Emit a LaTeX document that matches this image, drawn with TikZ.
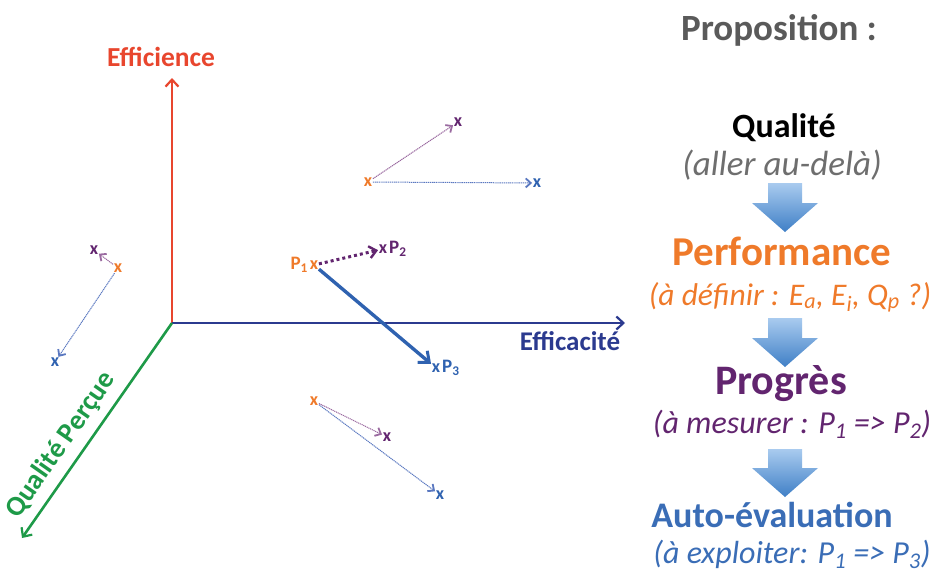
\documentclass[tikz,border=0pt]{standalone}
\usepackage{fontspec}
\setmainfont{Carlito}
\usetikzlibrary{arrows.meta}
\definecolor{cred}{HTML}{E8462E}
\definecolor{cnavy}{HTML}{2B3A8F}
\definecolor{cgreen}{HTML}{1E9A48}
\definecolor{corange}{HTML}{EF7A2A}
\definecolor{cpurple}{HTML}{62256F}
\definecolor{cblue}{HTML}{2F62B0}
\definecolor{cblue2}{HTML}{3A6DB6}
\definecolor{cgray}{HTML}{5A5A5A}
\definecolor{cgray2}{HTML}{6E6E6E}
\definecolor{cmauve}{HTML}{9A6AA0}
\definecolor{cthinblue}{HTML}{5A78C0}
\definecolor{arrtop}{HTML}{A9CBEF}
\definecolor{arrbot}{HTML}{3F7FC6}
\newcommand\fsz[1]{\fontsize{#1}{#1}\selectfont}
\begin{document}
\begin{tikzpicture}[x=1pt,y=-1pt,
  mk/.style={font=\fsz{18}\bfseries, inner sep=0.6pt},
  plab/.style={font=\fsz{19}\bfseries, inner sep=1pt},
  axis/.style={line width=2.6pt, -{Straight Barb[length=7pt,width=13pt,line width=2.2pt]}},
  thinarr/.style={line width=1pt, dash pattern=on 1.2pt off 0.7pt, -{Straight Barb[length=5pt,width=9pt,line width=1.8pt]}},
  big/.style={font=\fsz{#1}\bfseries, anchor=base},
  sub/.style={font=\fsz{#1}\itshape, anchor=base},
]
\useasboundingbox (0,0) rectangle (939,574);
% axes
\coordinate (O) at (172,323);
\coordinate (Ey) at (172,78);
\coordinate (Ex) at (625,323);
\coordinate (Ez) at (22,538);
\draw[axis, cred] (O) -- (Ey);
\draw[axis, cnavy] (O) -- (Ex);
\draw[axis, cgreen] (O) -- (Ez);
\node[font=\fsz{27.5}\bfseries, text=cred] (lEy) at (161,57) {Efficience};
\node[font=\fsz{27}\bfseries, text=cnavy] (lEx) at (570,341) {Efficacité};
\node[font=\fsz{28}\bfseries, text=cgreen, rotate=55] (lEz) at (61,445) {Qualité Perçue};

% top cluster
\node[mk, text=corange] (ta) at (368,182) {x};
\node[mk, text=cpurple] (tb) at (458,122) {x};
\node[mk, text=cblue] (tc) at (537,183) {x};
\draw[thinarr, cmauve] (ta) -- (tb);
\draw[thinarr, cthinblue] (ta) -- (tc);

% left cluster
\node[mk, text=corange] (la) at (118,268) {x};
\node[mk, text=cpurple] (lb) at (94,250) {x};
\node[mk, text=cblue] (lc) at (55,362) {x};
\draw[thinarr, cmauve] (la) -- (lb);
\draw[thinarr, cthinblue] (la) -- (lc);

% bottom cluster
\node[mk, text=corange] (ba) at (314,401) {x};
\node[mk, text=cpurple] (bb) at (387,437) {x};
\node[mk, text=cblue] (bc) at (440,495) {x};
\draw[thinarr, cmauve] (ba) -- (bb);
\draw[thinarr, cthinblue] (ba) -- (bc);

% P points
\node[mk, text=corange] (p1) at (314,265) {x};
\node[mk, text=cpurple] (p2) at (383,249) {x};
\node[mk, text=cblue] (p3) at (436,368) {x};
\node[plab, text=corange, anchor=east] (lp1) at (p1.west) {P\textsubscript{1}};
\node[plab, text=cpurple, anchor=west] (lp2) at (p2.east) {P\textsubscript{2}};
\node[plab, text=cblue, anchor=west] (lp3) at (p3.east) {P\textsubscript{3}};
\draw[cpurple, line width=3pt, dash pattern=on 3pt off 3pt, -{Straight Barb[length=7pt,width=12pt,line width=2.4pt]}] (p1) -- (p2);
\draw[cblue, line width=3.4pt, -{Straight Barb[length=9pt,width=15pt,line width=3pt]}] (p1) -- (p3);

% right column
\node[font=\fsz{37}\bfseries, text=cgray, anchor=base] (prop) at (779,40) {Proposition :};
\node[big=34, text=black] (qual) at (784,137) {Qualité};
\node[sub=35, text=cgray2] (qsub) at (782,175) {(aller au-delà)};
\node[big=41, text=corange] (perf) at (782,265) {Performance};
\node[sub=31.5, text=corange] (psub) at (790,305) {(à définir : \textit{E}\textsubscript{\textit{a}}, \textit{E}\textsubscript{\textit{i}}, \textit{Q}\textsubscript{\textit{p}} ?)};
\node[big=42, text=cpurple] (prog) at (781,394) {Progrès};
\node[sub=32, text=cpurple] (gsub) at (792,433) {(à mesurer : P\textsubscript{1} => P\textsubscript{2})};
\node[big=36, text=cblue2] (auto) at (772,527) {Auto-évaluation};
\node[sub=32, text=cblue2] (asub) at (792,563) {(à exploiter: P\textsubscript{1} => P\textsubscript{3})};

% block arrows
\foreach \cx/\ty/\tip in {785/183/232, 785/318/367, 785/449/497}{
  \shade[top color=arrtop, bottom color=arrbot]
    (\cx-17,\ty) -- (\cx+17,\ty) -- (\cx+17,\tip-29) -- (\cx+33,\tip-29)
    -- (\cx,\tip) -- (\cx-33,\tip-29) -- (\cx-17,\tip-29) -- cycle;
}
\end{tikzpicture}
\end{document}
